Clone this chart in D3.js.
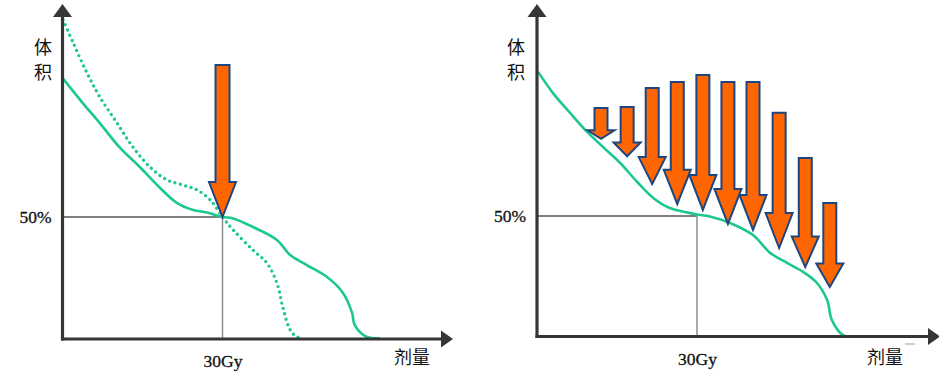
<!DOCTYPE html>
<html>
<head>
  <meta charset="utf-8">
  <title>DVH</title>
  <script src="https://cdn.jsdelivr.net/npm/d3@7"></script>
  <style>
    body { margin: 0; background: #fff; }
    text { fill: #111; }
  </style>
</head>
<body>
  <script>
    // dose (Gy), volume (%)
    const leftSolid = [[0,107],[3.8,96.7],[7,88.5],[10.8,78.3],[14.5,70.5],[18.3,61.9],[21.5,55.7],[24.5,52.9],[27.1,51.8],[30,50],[32,49.4],[35.7,45.9],[40.2,40.6],[42.7,34.4],[45.8,30.3],[49.6,25.4],[52.6,18.9],[54.3,10.7],[54.8,5.7],[57.1,0.8],[59.5,0.4]];
    const leftDotted = [[0.1,130.8],[2,121.4],[4.6,109],[7,99.2],[10.2,88.6],[13.2,78.7],[16.4,70.5],[19.6,65.2],[22.6,63.1],[25.2,61.1],[27.7,57],[30,50],[32,44.7],[35.7,36.5],[38.3,31.2],[40.2,23],[41.3,13.1],[42.7,3.7],[44,0.8],[45.1,0.8]];
    const rightSolid = [[0.2,109.8],[3,101],[6.2,92.8],[9.4,84.9],[12.4,78.6],[15.6,72],[18.8,64.1],[21.8,57.5],[24.9,53.3],[28.1,51.5],[30,50.6],[32.4,49.8],[36.2,47.1],[40.5,42.1],[43.7,34.7],[46.9,30.5],[49.9,26.8],[52.5,22.2],[54.4,15.1],[55.3,6.8],[57.4,0.6],[60,0]];
    // arrows: dose, start volume, end volume
    const leftArrows = [[30,112.3,50]];
    const rightArrows = [[12,94.8,82],[16.9,95.2,74.8],[21.6,103.1,63.3],[26.3,105.6,55],[31.1,108.5,52.5],[35.8,105.6,46.7],[40.5,105.6,44.2],[45.4,92.8,36.7],[50.3,74.1,28.8],[54.9,55.4,20.5]];
    const refDose = 30, refVol = 50;
    const doseLabel = '30Gy', volLabel = '50%';
    const xTitle = '剂量', yTitle = ['体', '积'];

    const green = '#1dc88e';
    const svg = d3.select('body').append('svg')
      .attr('width', 939).attr('height', 380);

    const panels = [
      { ox: 62.5, oy: 339, y50: 217, xEnd: 453, yEnd: 4, solid: leftSolid, dotted: leftDotted, arrows: leftArrows, shaft: 14, tx: 43, xtx: 412 },
      { ox: 537, oy: 336.5, y50: 216, xEnd: 940, yEnd: 4, solid: rightSolid, dotted: null, arrows: rightArrows, shaft: 13, tx: 516, xtx: 885 }
    ];

    panels.forEach(p => {
      const g = svg.append('g');
      const x = d3.scaleLinear().domain([0, refDose]).range([p.ox, p.ox + 160]);
      const y = d3.scaleLinear().domain([0, refVol]).range([p.oy, p.y50]);
      const line = d3.line().x(d => x(d[0])).y(d => y(d[1])).curve(d3.curveCatmullRom.alpha(0.5));

      // reference lines
      g.append('line').attr('x1', p.ox).attr('x2', x(refDose))
        .attr('y1', y(refVol)).attr('y2', y(refVol))
        .attr('stroke', '#7f7f7f').attr('stroke-width', 2);
      g.append('line').attr('x1', x(refDose)).attr('x2', x(refDose))
        .attr('y1', y(refVol)).attr('y2', p.oy)
        .attr('stroke', '#8c8c8c').attr('stroke-width', 1.5);

      // curves
      if (p.dotted) {
        g.append('path').attr('d', line(p.dotted))
          .attr('fill', 'none').attr('stroke', green)
          .attr('stroke-width', 3.4).attr('stroke-linecap', 'round')
          .attr('stroke-dasharray', '0 5.6');
      }
      g.append('path').attr('d', line(p.solid))
        .attr('fill', 'none').attr('stroke', green).attr('stroke-width', 2.6);

      // axes
      const axisCol = '#363636';
      g.append('line').attr('x1', p.ox).attr('x2', p.ox).attr('y1', p.oy + 1.5).attr('y2', p.yEnd + 10)
        .attr('stroke', axisCol).attr('stroke-width', 3.2);
      g.append('line').attr('x1', p.ox - 1.5).attr('x2', p.xEnd - 10).attr('y1', p.oy).attr('y2', p.oy)
        .attr('stroke', axisCol).attr('stroke-width', 3.2);
      g.append('path')
        .attr('d', `M${p.ox},${p.yEnd} L${p.ox - 9.5},${p.yEnd + 13} L${p.ox + 9.5},${p.yEnd + 13} Z`)
        .attr('fill', axisCol);
      g.append('path')
        .attr('d', `M${p.xEnd},${p.oy} L${p.xEnd - 12},${p.oy - 8.5} L${p.xEnd - 12},${p.oy + 8.5} Z`)
        .attr('fill', axisCol);

      // tick labels via d3 axes
      const ya = g.append('g').attr('transform', `translate(${p.ox - 8},0)`)
        .call(d3.axisLeft(y).tickValues([refVol]).tickSize(0).tickFormat(() => volLabel));
      const xa = g.append('g').attr('transform', `translate(0,${p.oy + 13})`)
        .call(d3.axisBottom(x).tickValues([refDose]).tickSize(0).tickFormat(() => doseLabel));
      [ya, xa].forEach(a => {
        a.select('.domain').remove();
        a.selectAll('text').attr('font-family', '"Liberation Serif", serif')
          .attr('font-size', 17.5).attr('fill', '#111')
          .attr('stroke', '#111').attr('stroke-width', 0.3);
      });

      // titles
      yTitle.forEach((t, i) => {
        g.append('text').attr('x', p.tx).attr('y', 54 + i * 25)
          .attr('text-anchor', 'middle').attr('font-family', '"Noto Sans CJK SC"')
          .attr('font-size', 18).text(t);
      });
      g.append('text').attr('x', p.xtx).attr('y', 364)
        .attr('text-anchor', 'middle').attr('font-family', '"Noto Sans CJK SC"')
        .attr('font-size', 18).text(xTitle);

      // arrows
      p.arrows.forEach(a => {
        const cx = x(a[0]), y0 = y(a[1]), y1 = y(a[2]);
        const len = y1 - y0;
        const head = Math.min(35, len * 0.28);
        const sw = p.shaft / 2, hw = 13.5;
        const d = `M${cx - sw},${y0} L${cx + sw},${y0} L${cx + sw},${y1 - head} L${cx + hw},${y1 - head}` +
          ` L${cx},${y1} L${cx - hw},${y1 - head} L${cx - sw},${y1 - head} Z`;
        g.append('path').attr('d', d)
          .attr('fill', '#ff6600').attr('stroke', '#1f4580')
          .attr('stroke-width', 2).attr('stroke-linejoin', 'miter');
      });
    });

    // small stray mark near the right x title
    svg.append('line').attr('x1', 905).attr('x2', 915).attr('y1', 344).attr('y2', 344)
      .attr('stroke', '#999').attr('stroke-width', 1);
  </script>
</body>
</html>
